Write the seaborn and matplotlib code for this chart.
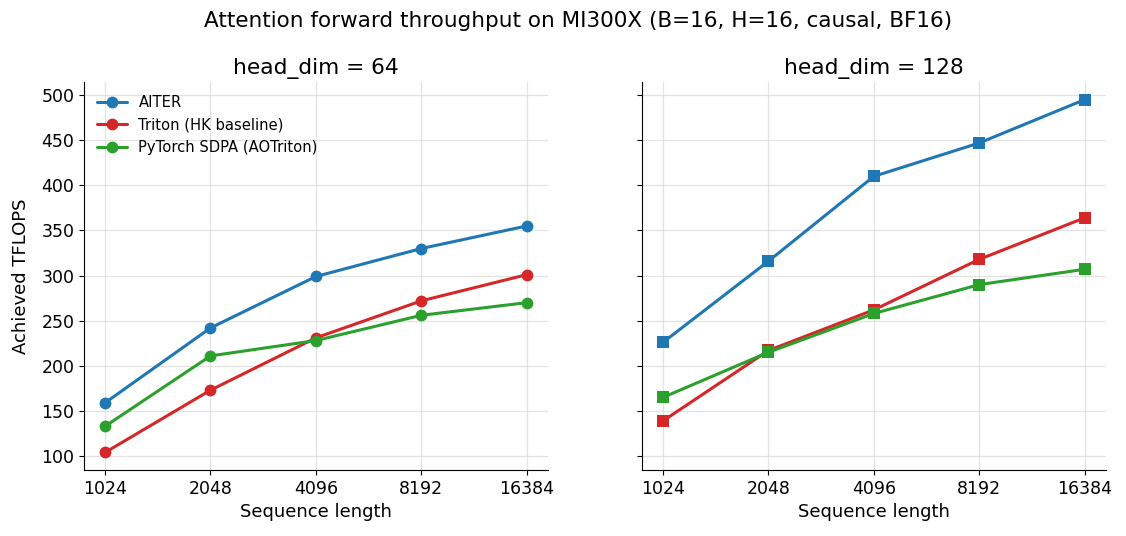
import numpy as np
import pandas as pd
import seaborn as sns
import matplotlib.pyplot as plt

seq_lens = [1024, 2048, 4096, 8192, 16384]
methods = ["AITER", "Triton (HK baseline)", "PyTorch SDPA (AOTriton)"]

# TFLOPS, head_dim = 64
aiter_d64 = [159, 242, 299, 330, 355]
triton_d64 = [104, 173, 231, 272, 301]
sdpa_d64 = [133, 211, 228, 256, 270]

# TFLOPS, head_dim = 128
aiter_d128 = [226, 316, 410, 447, 495]
triton_d128 = [139, 217, 262, 318, 364]
sdpa_d128 = [165, 215, 258, 290, 307]

colors = ["#1f77b4", "#d62728", "#2ca02c"]


def to_frame(series):
    rows = []
    for name, vals in zip(methods, series):
        for s, v in zip(seq_lens, vals):
            rows.append({"seq": s, "tflops": v, "method": name})
    return pd.DataFrame(rows)


df64 = to_frame([aiter_d64, triton_d64, sdpa_d64])
df128 = to_frame([aiter_d128, triton_d128, sdpa_d128])

sns.set_style("ticks", rc={
    "axes.edgecolor": "black", "text.color": "black", "axes.labelcolor": "black",
    "xtick.color": "black", "ytick.color": "black",
})
plt.rcParams["font.family"] = ["DejaVu Sans"]

fig, axes = plt.subplots(1, 2, figsize=(11.26, 5.36), dpi=100, sharey=True)

for ax, df, marker, hd in [(axes[0], df64, "o", 64), (axes[1], df128, "s", 128)]:
    sns.lineplot(
        data=df, x="seq", y="tflops", hue="method", palette=colors,
        marker=marker, markersize=8.5, markeredgewidth=0, linewidth=2.2,
        ax=ax, legend=(hd == 64),
    )
    ax.set_xscale("log", base=2)
    ax.set_xticks(seq_lens)
    ax.set_xticklabels([str(s) for s in seq_lens])
    ax.minorticks_off()
    ax.grid(True, color="#dddddd", linewidth=0.9, alpha=0.8)
    ax.set_title(f"head_dim = {hd}", fontsize=15.7)
    ax.set_xlabel("Sequence length", fontsize=13)
    ax.tick_params(labelsize=12.5)
    sns.despine(ax=ax)

axes[0].set_ylabel("Achieved TFLOPS", fontsize=13, labelpad=8)
axes[1].set_ylabel("")
axes[0].legend(frameon=False, fontsize=10.6, loc="upper left", title=None)

fig.suptitle("Attention forward throughput on MI300X (B=16, H=16, causal, BF16)",
             fontsize=15.5, x=0.513, y=0.98)
fig.subplots_adjust(left=0.0746, right=0.982, top=0.847, bottom=0.123, wspace=0.203)
fig.savefig("out.png", dpi=100)
